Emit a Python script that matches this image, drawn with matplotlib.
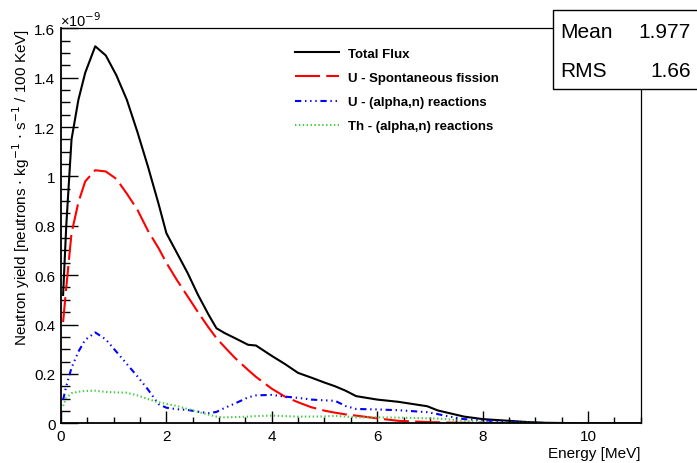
import matplotlib
matplotlib.use("Agg")
import matplotlib.pyplot as plt
from matplotlib.ticker import MultipleLocator, FuncFormatter
from matplotlib.patches import Rectangle

plt.rcParams['font.family'] = ['Liberation Sans', 'DejaVu Sans']
plt.rcParams['lines.scale_dashes'] = False

# energy [MeV] and yields in units of 1e-9 neutrons / kg / s / 100 keV
energy = [0.04, 0.1, 0.2, 0.33, 0.46, 0.65, 0.85, 1.05, 1.25, 1.45, 1.65, 1.85,
          2.0, 2.2, 2.4, 2.6, 2.8, 2.95, 3.1, 3.3, 3.55, 3.7, 4.0, 4.25, 4.5,
          4.75, 5.0, 5.2, 5.4, 5.6, 6.0, 6.4, 6.95, 7.15, 7.35, 7.65, 8.0, 8.5,
          8.85, 9.2, 9.6, 10.0, 10.5, 11.0]

total_flux = [0.52, 0.80, 1.15, 1.31, 1.42, 1.527, 1.49, 1.41, 1.31, 1.18, 1.04, 0.89,
              0.77, 0.69, 0.61, 0.52, 0.44, 0.385, 0.366, 0.345, 0.318, 0.315, 0.273, 0.24, 0.204,
              0.185, 0.165, 0.15, 0.132, 0.11, 0.096, 0.087, 0.069, 0.052, 0.042, 0.027, 0.017, 0.010,
              0.005, 0.002, 0.001, 0.0005, 0.0, 0.0]

u_fission = [0.41, 0.55, 0.77, 0.895, 0.98, 1.025, 1.02, 0.99, 0.93, 0.865, 0.78, 0.71,
             0.65, 0.58, 0.515, 0.45, 0.388, 0.345, 0.31, 0.265, 0.216, 0.188, 0.14, 0.108, 0.085,
             0.065, 0.051, 0.043, 0.036, 0.031, 0.02, 0.01, 0.005, 0.004, 0.003, 0.002, 0.002, 0.001,
             0.001, 0.0, 0.0, 0.0, 0.0, 0.0]

u_alpha_n = [0.095, 0.15, 0.225, 0.29, 0.338, 0.368, 0.34, 0.29, 0.24, 0.19, 0.137, 0.078,
             0.063, 0.057, 0.054, 0.047, 0.041, 0.046, 0.062, 0.08, 0.105, 0.113, 0.115, 0.108, 0.103,
             0.096, 0.093, 0.091, 0.07, 0.058, 0.056, 0.053, 0.045, 0.037, 0.028, 0.017, 0.012, 0.005,
             0.002, 0.001, 0.0, 0.0, 0.0, 0.0]

th_alpha_n = [0.07, 0.103, 0.122, 0.128, 0.131, 0.132, 0.127, 0.125, 0.124, 0.113, 0.098, 0.085,
              0.079, 0.07, 0.058, 0.046, 0.035, 0.027, 0.024, 0.025, 0.027, 0.029, 0.031, 0.029, 0.027,
              0.027, 0.028, 0.03, 0.027, 0.024, 0.024, 0.023, 0.02, 0.019, 0.016, 0.01, 0.005, 0.002,
              0.002, 0.001, 0.0, 0.0, 0.0, 0.0]

labels = ["Total Flux", "U - Spontaneous fission", "U - (alpha,n) reactions", "Th - (alpha,n) reactions"]

fig = plt.figure(figsize=(6.97, 4.64), dpi=100)
ax = fig.add_axes([0.0875, 0.0856, 0.8317, 0.8513])

ax.plot(energy, total_flux, color="black", lw=1.5, label=labels[0])
ax.plot(energy, u_fission, color="#ff0000", lw=1.5, dashes=(18, 4.5), label=labels[1])
ax.plot(energy, u_alpha_n, color="#0000ff", lw=1.5,
        dashes=(4.5, 2.7, 1, 2.7, 1, 2.7, 1, 2.7), label=labels[2])
ax.plot(energy, th_alpha_n, color="#44cc44", lw=1.5, dashes=(1, 1.8), label=labels[3])

ax.set_xlim(0, 11)
ax.set_ylim(0, 1.6)
ax.xaxis.set_major_locator(MultipleLocator(2))
ax.xaxis.set_minor_locator(MultipleLocator(0.5))
ax.yaxis.set_major_locator(MultipleLocator(0.2))
ax.yaxis.set_minor_locator(MultipleLocator(0.05))
ax.xaxis.set_major_formatter(FuncFormatter(lambda v, p: "%g" % round(v, 3)))
ax.yaxis.set_major_formatter(FuncFormatter(lambda v, p: "%g" % round(v, 3)))

ax.tick_params(axis="x", which="major", direction="in", length=8.6, width=1, labelsize=11, pad=4)
ax.tick_params(axis="x", which="minor", direction="in", length=4.3, width=1)
ax.tick_params(axis="y", which="major", direction="in", length=12.5, width=1, labelsize=11, pad=4)
ax.tick_params(axis="y", which="minor", direction="in", length=6.3, width=1)

for s in ["left", "bottom"]:
    ax.spines[s].set_linewidth(1.3)
for s in ["top", "right"]:
    ax.spines[s].set_linewidth(0.9)

ax.set_xlabel("Energy [MeV]", fontsize=11, loc="right", labelpad=2)
ax.set_ylabel("Neutron yield [neutrons $\\cdot$ kg$^{-1}$ $\\cdot$ s$^{-1}$ / 100 KeV]",
              fontsize=11, loc="top", labelpad=2)

fig.text(60 / 697, 1 - 27 / 464, "\u00d710$^{-9}$", fontsize=10.5, ha="left", va="baseline")

leg = fig.legend(loc="upper left", bbox_to_anchor=(295 / 697, 1 - 48.7 / 464), frameon=False,
                 prop={"weight": "bold", "size": 9.5}, handlelength=3.3, handletextpad=0.75,
                 labelspacing=0.9, borderpad=0, borderaxespad=0)

# statistics box
fig.patches.append(Rectangle((552.7 / 697, 1 - 90 / 464), 0.3, (90 - 11.3) / 464,
                             transform=fig.transFigure, facecolor="white", edgecolor="black",
                             lw=1, zorder=5, clip_on=False))
fig.text(560 / 697, 1 - 32 / 464, "Mean", fontsize=15, ha="left", va="center", zorder=6)
fig.text(690.7 / 697, 1 - 32 / 464, "1.977", fontsize=15, ha="right", va="center", zorder=6)
fig.text(560 / 697, 1 - 71.7 / 464, "RMS", fontsize=15, ha="left", va="center", zorder=6)
fig.text(690.7 / 697, 1 - 71.7 / 464, "1.66", fontsize=15, ha="right", va="center", zorder=6)

fig.savefig("out.png", dpi=100)
